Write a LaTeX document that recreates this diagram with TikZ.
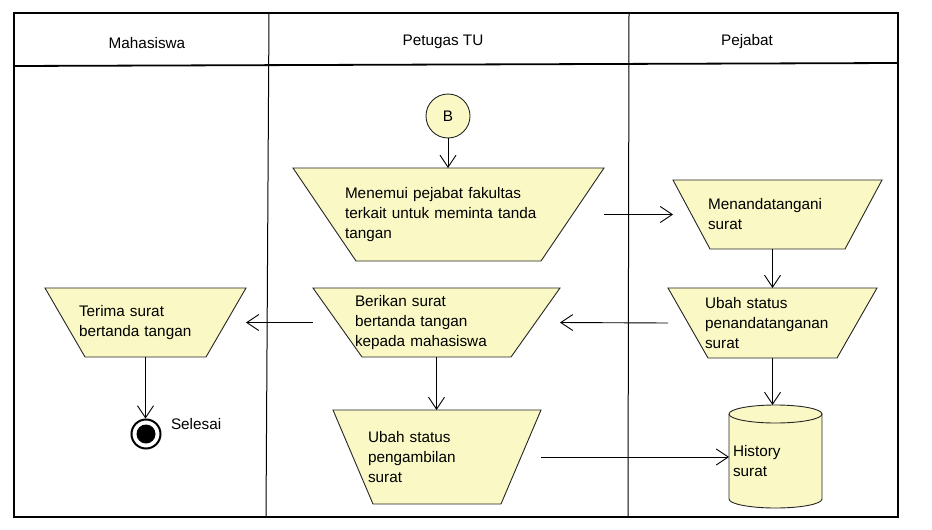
\documentclass[tikz,border=0pt]{standalone}
\usepackage{fontspec}
\setmainfont{Liberation Sans}
\usetikzlibrary{arrows.meta, positioning, calc, backgrounds}
\definecolor{actyellow}{RGB}{250,248,196}

\tikzset{
  lanetitle/.style={font=\fontsize{15.3}{20}\selectfont},
  act/.style={inner sep=0pt, outer sep=0pt, align=left, font=\fontsize{15.3}{20}\selectfont},
  actshape/.style={draw=black!85, fill=actyellow, line width=0.9pt},
  flow/.style={draw, line width=0.9pt, -{Straight Barb[length=12pt,width=16pt]}},
  finish/.style={circle, draw, line width=2pt, fill=white, minimum size=29pt, inner sep=0pt,
    path picture={\fill[black] (path picture bounding box.center) circle (9.5pt);}},
}

\begin{document}
\begin{tikzpicture}[x=1pt, y=-1pt]
  \useasboundingbox (0,0) rectangle (932,530);

  % swimlanes
  \draw[line width=1.3pt] (14,13) rectangle (898,517);
  \draw[line width=1.8pt] (14,66) -- (898,63);
  \draw[line width=1pt] (269,13) -- (266,517);
  \draw[line width=1pt] (629,13) -- (628,517);
  \node[lanetitle] (mhs) at (147,43) {Mahasiswa};
  \node[lanetitle] (tu) at (443,42) {Petugas TU};
  \node[lanetitle] (pjb) at (747,42) {Pejabat};

  % activities
  \node[circle, actshape, act, minimum size=44pt] (b) at (448,116) {B};
  \node[act, minimum width=311, minimum height=93, text width=207] (menemui) at (448.5,214.5)
    {Menemui pejabat fakultas\\terkait untuk meminta tanda\\tangan};
  \node[act, minimum width=209, minimum height=69, text width=139] (menanda) at (777.5,214.5)
    {Menandatangani\\surat};
  \node[act, minimum width=209, minimum height=70, text width=135] (ubahttd) at (772.5,323)
    {Ubah status\\penandatanganan\\surat};
  \node[act, minimum width=247, minimum height=69, text width=163] (berikan) at (436.5,322.5)
    {Berikan surat\\bertanda tangan\\kepada mahasiswa};
  \node[act, minimum width=201, minimum height=69, text width=133] (terima) at (145.5,322.5)
    {Terima surat\\bertanda tangan};
  \node[act, minimum width=208, minimum height=94, text width=138] (ambil) at (437,457)
    {Ubah status\\pengambilan\\surat};
  \node[act, minimum width=93, minimum height=94, text width=85] (history) at (775.5,461)
    {History\\surat};
  \node[finish] (selesai) at (146,434) {};
  \node[act, anchor=west] (selesaitxt) at (171,424) {Selesai};

  \begin{pgfonlayer}{background}
    \foreach \n/\d in {menemui/63, menanda/37, ubahttd/40, berikan/49, terima/40, ambil/40}
      \draw[actshape] (\n.north west) -- (\n.north east) -- ([xshift=-\d]\n.south east)
        -- ([xshift=\d]\n.south west) -- cycle;
    \draw[actshape] (history.north west) -- ([yshift=9]history.south west)
      arc[start angle=180, end angle=360, x radius=46.5pt, y radius=9pt]
      -- (history.north east)
      arc[start angle=0, end angle=180, x radius=46.5pt, y radius=9pt] -- cycle;
    \draw[actshape, fill=none] (history.north west)
      arc[start angle=180, end angle=360, x radius=46.5pt, y radius=9pt];
  \end{pgfonlayer}

  % flows
  \draw[flow] (b) -- (b |- menemui.north);
  \draw[flow] (menemui.east) -- (menanda.west);
  \draw[flow] (ubahttd.north |- menanda.south) -- (ubahttd.north);
  \draw[flow] (ubahttd.west) -- (berikan.east);
  \draw[flow] (berikan.west) -- (terima.east);
  \draw[flow] (terima.south) -- (terima.south |- selesai.north);
  \draw[flow] (berikan.south) -- (berikan.south |- ambil.north);
  \draw[flow] (ubahttd.south) -- ([yshift=9]ubahttd.south |- history.north);
  \draw[flow] (ambil.east) -- (ambil.east -| history.west);
\end{tikzpicture}
\end{document}
